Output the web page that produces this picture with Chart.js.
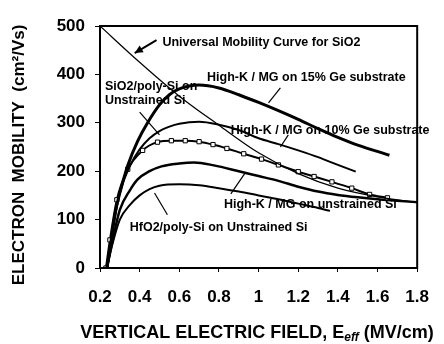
<!DOCTYPE html>
<html>
<head>
<meta charset="utf-8">
<script src="https://cdn.jsdelivr.net/npm/chart.js@4/dist/chart.umd.min.js"></script>
<style>
  html, body { margin: 0; padding: 0; background: #fff; }
  #wrap { width: 444px; height: 344px; }
</style>
</head>
<body>
<div id="wrap"><canvas id="chart-mobility"></canvas></div>
<script>
// Valores
const xTickLabels = ['0.2', '0.4', '0.6', '0.8', '1', '1.2', '1.4', '1.6', '1.8'];
const yTickLabels = ['0', '100', '200', '300', '400', '500'];

const universalX = [0.2, 0.4, 0.6, 0.8, 1.0, 1.2, 1.4, 1.6, 1.8];
const universalY = [500, 425, 355, 295, 238, 195, 165, 147, 135];

const ge15X = [0.235, 0.25, 0.28, 0.31, 0.34, 0.39, 0.44, 0.5, 0.55, 0.6, 0.7, 0.8, 0.9, 1.0, 1.1, 1.2, 1.3, 1.4, 1.5, 1.66];
const ge15Y = [0, 40, 120, 170, 212, 262, 300, 337, 358, 370, 378, 372, 358, 342, 325, 307, 288, 270, 254, 233];

const ge10X = [0.235, 0.26, 0.3, 0.35, 0.4, 0.45, 0.5, 0.55, 0.6, 0.7, 0.8, 0.9, 1.0, 1.1, 1.2, 1.3, 1.4, 1.49];
const ge10Y = [0, 70, 155, 210, 245, 268, 283, 292, 298, 302, 296, 285, 268, 256, 243, 229, 213, 199];

const sio2X = [0.23, 0.25, 0.285, 0.34, 0.415, 0.49, 0.56, 0.63, 0.7, 0.77, 0.84, 0.925, 1.015, 1.1, 1.2, 1.28, 1.37, 1.47, 1.56, 1.65];
const sio2Y = [0, 58, 141, 204, 243, 260, 263, 263, 261, 255, 247, 236, 225, 213, 199, 189, 178, 165, 152, 145];

const hkX = [0.235, 0.26, 0.3, 0.35, 0.39, 0.45, 0.51, 0.6, 0.675, 0.775, 0.9, 1.0, 1.1, 1.2, 1.3, 1.4, 1.5, 1.6, 1.7, 1.8];
const hkY = [0, 50, 120, 160, 183, 200, 210, 216, 218, 212, 200, 190, 180, 168, 158, 151, 146, 142, 139, 136];

const hfo2X = [0.235, 0.26, 0.3, 0.35, 0.4, 0.45, 0.5, 0.6, 0.7, 0.8, 0.9, 1.0, 1.1, 1.2, 1.3, 1.36];
const hfo2Y = [0, 45, 100, 130, 150, 163, 170, 173, 171, 165, 158, 150, 142, 133, 124, 118];

function pts(xs, ys) {
    return xs.map((x, i) => ({ x: x, y: ys[i] }));
}

const FONT = 'Arial, "Liberation Sans", sans-serif';

// Etiquetas dentro del gráfico (posición en unidades de datos)
const notes = [
    { text: 'Universal Mobility Curve for SiO2', x: 0.515, y: 465, from: [0.485, 471], to: [0.375, 444], head: true },
    { text: 'High-K / MG on 15% Ge substrate', x: 0.74, y: 393, from: [1.11, 372], to: [1.05, 341] },
    { text: 'SiO2/poly-Si on', x: 0.225, y: 374 },
    { text: 'Unstrained Si', x: 0.225, y: 345, from: [0.4, 322], to: [0.5, 275] },
    { text: 'High-K / MG on 10% Ge substrate', x: 0.86, y: 285, from: [1.15, 275], to: [1.11, 250] },
    { text: 'High-K / MG on unstrained Si', x: 0.825, y: 132, from: [0.86, 153], to: [0.935, 198] },
    { text: 'HfO2/poly-Si on Unstrained Si', x: 0.35, y: 83, from: [0.54, 110], to: [0.475, 155] }
];

const decor = {
    id: 'decor',
    afterDatasetsDraw(chart) {
        const { ctx, chartArea: a, scales: { x, y } } = chart;
        ctx.save();
        // caja del gráfico
        ctx.strokeStyle = '#000';
        ctx.lineWidth = 2;
        ctx.strokeRect(a.left, a.top, a.right - a.left, a.bottom - a.top);

        ctx.fillStyle = '#000';
        ctx.font = 'bold 12.5px ' + FONT;
        ctx.textBaseline = 'middle';
        ctx.textAlign = 'left';
        notes.forEach(n => {
            ctx.fillText(n.text, x.getPixelForValue(n.x), y.getPixelForValue(n.y));
            if (n.from) {
                const x1 = x.getPixelForValue(n.from[0]), y1 = y.getPixelForValue(n.from[1]);
                const x2 = x.getPixelForValue(n.to[0]), y2 = y.getPixelForValue(n.to[1]);
                ctx.lineWidth = n.head ? 2 : 1.2;
                ctx.beginPath();
                ctx.moveTo(x1, y1);
                ctx.lineTo(x2, y2);
                ctx.stroke();
                if (n.head) {
                    const ang = Math.atan2(y2 - y1, x2 - x1);
                    ctx.beginPath();
                    ctx.moveTo(x2, y2);
                    ctx.lineTo(x2 - 9 * Math.cos(ang - 0.45), y2 - 9 * Math.sin(ang - 0.45));
                    ctx.lineTo(x2 - 9 * Math.cos(ang + 0.45), y2 - 9 * Math.sin(ang + 0.45));
                    ctx.closePath();
                    ctx.fill();
                }
            }
        });

        // títulos de los ejes
        ctx.textAlign = 'left';
        ctx.textBaseline = 'alphabetic';
        const t1 = 'VERTICAL ELECTRIC FIELD, E';
        const t2 = ' (MV/cm)';
        ctx.font = 'bold 18px ' + FONT;
        const w1 = ctx.measureText(t1).width;
        const w2 = ctx.measureText(t2).width;
        ctx.font = 'bold italic 12px ' + FONT;
        const ws = ctx.measureText('eff').width;
        const total = w1 + ws + w2;
        let sx = 257 - total / 2;
        const by = 338;
        ctx.font = 'bold 18px ' + FONT;
        ctx.fillText(t1, sx, by);
        ctx.font = 'bold italic 12px ' + FONT;
        ctx.fillText('eff', sx + w1, by + 3);
        ctx.font = 'bold 18px ' + FONT;
        ctx.fillText(t2, sx + w1 + ws, by);

        ctx.font = 'bold 17px ' + FONT;
        ctx.translate(24, 155);
        ctx.rotate(-Math.PI / 2);
        ctx.textAlign = 'center';
        ctx.fillText('ELECTRON  MOBILITY  (cm²/Vs)', 0, 0);
        ctx.restore();
    }
};

const lineBase = {
    showLine: true,
    fill: false,
    borderColor: '#000',
    pointRadius: 0,
    cubicInterpolationMode: 'monotone'
};

const ctxMob = document.getElementById('chart-mobility').getContext('2d');
new Chart(ctxMob, {
    type: 'scatter',
    data: {
        datasets: [
            Object.assign({}, lineBase, { label: 'Universal', data: pts(universalX, universalY), borderWidth: 1.2 }),
            Object.assign({}, lineBase, { label: '15% Ge', data: pts(ge15X, ge15Y), borderWidth: 3 }),
            Object.assign({}, lineBase, { label: '10% Ge', data: pts(ge10X, ge10Y), borderWidth: 2 }),
            Object.assign({}, lineBase, {
                label: 'SiO2', data: pts(sio2X, sio2Y), borderWidth: 2,
                pointRadius: 3, pointStyle: 'rect', pointBackgroundColor: '#fff',
                pointBorderColor: '#000', pointBorderWidth: 1
            }),
            Object.assign({}, lineBase, { label: 'High-K unstrained', data: pts(hkX, hkY), borderWidth: 2.5 }),
            Object.assign({}, lineBase, { label: 'HfO2', data: pts(hfo2X, hfo2Y), borderWidth: 2 })
        ]
    },
    options: {
        responsive: true,
        maintainAspectRatio: false,
        animation: false,
        layout: { padding: { top: 26, right: 24, left: 0, bottom: 0 } },
        plugins: {
            legend: { display: false },
            tooltip: { enabled: false }
        },
        scales: {
            x: {
                type: 'linear',
                min: 0.2,
                max: 1.8,
                afterFit(s) { s.height = 76; },
                afterBuildTicks(s) {
                    s.ticks = xTickLabels.map(t => ({ value: parseFloat(t) }));
                },
                ticks: {
                    callback: (v) => xTickLabels.find(t => Math.abs(parseFloat(t) - v) < 1e-6),
                    color: '#000',
                    font: { family: FONT, size: 17, weight: 'bold' },
                    padding: 15,
                    maxRotation: 0,
                    autoSkip: false
                },
                grid: { drawOnChartArea: false, color: '#000', tickLength: 4 },
                border: { color: '#000', width: 2 }
            },
            y: {
                min: 0,
                max: 500,
                afterFit(s) { s.width = 100; },
                afterBuildTicks(s) {
                    s.ticks = yTickLabels.map(t => ({ value: parseFloat(t) }));
                },
                ticks: {
                    callback: (v) => yTickLabels.find(t => parseFloat(t) === v),
                    color: '#000',
                    font: { family: FONT, size: 17, weight: 'bold' },
                    padding: 10
                },
                grid: { drawOnChartArea: false, color: '#000', tickLength: 5 },
                border: { color: '#000', width: 2 }
            }
        }
    },
    plugins: [decor]
});
</script>
</body>
</html>
